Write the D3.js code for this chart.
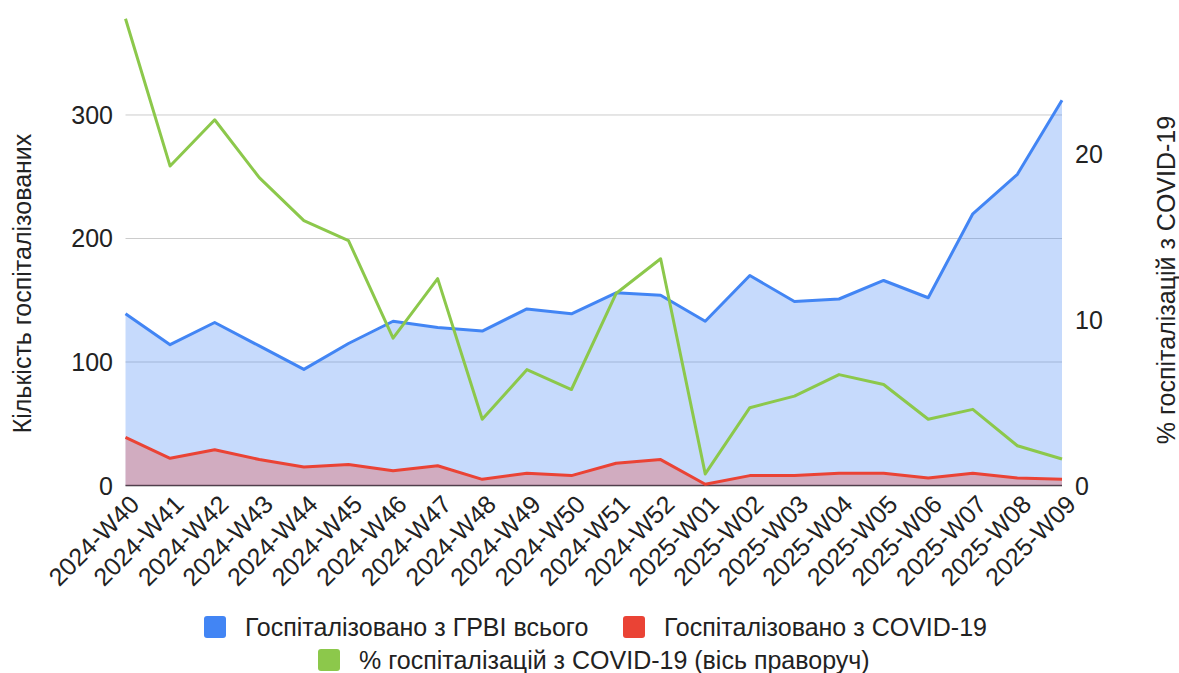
<!DOCTYPE html>
<html>
<head>
<meta charset="utf-8">
<script src="https://cdn.jsdelivr.net/npm/d3@7"></script>
<style>
  body { margin: 0; background: #fff; }
  text { font-family: "Liberation Sans", Arial, sans-serif; }
</style>
</head>
<body>
<script>
const width = 1179;
const height = 673;

const weeks = ["2024-W40", "2024-W41", "2024-W42", "2024-W43", "2024-W44", "2024-W45",
    "2024-W46", "2024-W47", "2024-W48", "2024-W49", "2024-W50", "2024-W51", "2024-W52",
    "2025-W01", "2025-W02", "2025-W03", "2025-W04", "2025-W05", "2025-W06", "2025-W07",
    "2025-W08", "2025-W09"];

const totalSari = [139, 114, 132, 113, 94, 115, 133, 128, 125, 143, 139, 156, 154,
    133, 170, 149, 151, 166, 152, 220, 252, 312];

const covidHosp = [39, 22, 29, 21, 15, 17, 12, 16, 5, 10, 8, 18, 21,
    1, 8, 8, 10, 10, 6, 10, 6, 5];

const covidPct = [28.2, 19.3, 22.1, 18.6, 16.0, 14.8, 8.9, 12.5, 4.0, 7.0, 5.8, 11.6, 13.7,
    0.7, 4.7, 5.4, 6.7, 6.1, 4.0, 4.6, 2.4, 1.6];

const leftTicks = [0, 100, 200, 300];
const rightTicks = [0, 10, 20];

const seriesNames = ["Госпіталізовано з ГРВІ всього", "Госпіталізовано з COVID-19",
    "% госпіталізацій з COVID-19 (вісь праворуч)"];
const colors = ["#4285f4", "#ea4335", "#8cc84b"];

const leftTitle = "Кількість госпіталізованих";
const rightTitle = "% госпіталізацій з COVID-19";

const margin = { left: 125.5, right: 117, top: 10, bottom: 187.5 };
const fontSize = 25;

let svg = d3.select("body").append("svg")
    .attr("width", width)
    .attr("height", height);

let xScale = d3.scalePoint()
    .domain(weeks)
    .range([margin.left, width - margin.right]);

let yLeft = d3.scaleLinear()
    .domain([0, 385])
    .range([height - margin.bottom, margin.top]);

let yRight = d3.scaleLinear()
    .domain([0, 28.73])
    .range([height - margin.bottom, margin.top]);

// gridlines
svg.append("g")
    .selectAll("line")
    .data(leftTicks.slice(1))
    .join("line")
    .attr("x1", margin.left)
    .attr("x2", width - margin.right)
    .attr("y1", d => yLeft(d))
    .attr("y2", d => yLeft(d))
    .attr("stroke", "#cccccc")
    .attr("stroke-width", 1);

// baseline
svg.append("line")
    .attr("x1", margin.left)
    .attr("x2", width - margin.right)
    .attr("y1", yLeft(0))
    .attr("y2", yLeft(0))
    .attr("stroke", "#333")
    .attr("stroke-width", 1.5);

let area = d3.area()
    .x((d, i) => xScale(weeks[i]))
    .y0(yLeft(0))
    .y1(d => yLeft(d));

let lineLeft = d3.line()
    .x((d, i) => xScale(weeks[i]))
    .y(d => yLeft(d));

let lineRight = d3.line()
    .x((d, i) => xScale(weeks[i]))
    .y(d => yRight(d));

[totalSari, covidHosp].forEach((vals, k) => {
    svg.append("path")
        .attr("d", area(vals))
        .attr("fill", colors[k])
        .attr("fill-opacity", 0.3);
});

[totalSari, covidHosp].forEach((vals, k) => {
    svg.append("path")
        .attr("d", lineLeft(vals))
        .attr("fill", "none")
        .attr("stroke", colors[k])
        .attr("stroke-width", 3)
        .attr("stroke-linejoin", "round");
});

svg.append("path")
    .attr("d", lineRight(covidPct))
    .attr("fill", "none")
    .attr("stroke", colors[2])
    .attr("stroke-width", 3)
    .attr("stroke-linejoin", "round");

// left axis labels
svg.append("g")
    .selectAll("text")
    .data(leftTicks)
    .join("text")
    .attr("x", 113)
    .attr("y", d => yLeft(d))
    .attr("dy", "0.36em")
    .attr("text-anchor", "end")
    .style("font-size", fontSize + "px")
    .attr("fill", "#222")
    .text(d => d);

// right axis labels
svg.append("g")
    .selectAll("text")
    .data(rightTicks)
    .join("text")
    .attr("x", 1075)
    .attr("y", d => yRight(d))
    .attr("dy", "0.36em")
    .attr("text-anchor", "start")
    .style("font-size", fontSize + "px")
    .attr("fill", "#222")
    .text(d => d);

// x labels
svg.append("g")
    .selectAll("text")
    .data(weeks)
    .join("text")
    .attr("transform", d => `translate(${xScale(d) + 9},${yLeft(0) + 14}) rotate(-45)`)
    .attr("text-anchor", "end")
    .attr("dy", "0.36em")
    .style("font-size", fontSize + "px")
    .attr("fill", "#222")
    .text(d => d);

// axis titles
svg.append("text")
    .attr("transform", "translate(31,283.5) rotate(-90)")
    .attr("text-anchor", "middle")
    .style("font-size", fontSize + "px")
    .attr("fill", "#222")
    .text(leftTitle);

svg.append("text")
    .attr("transform", "translate(1175,280) rotate(-90)")
    .attr("text-anchor", "middle")
    .style("font-size", fontSize + "px")
    .attr("fill", "#222")
    .text(rightTitle);

// legend
const legendPos = [
    { x: 204, y: 627 },
    { x: 623, y: 627 },
    { x: 318, y: 660 }
];

let legend = svg.append("g")
    .selectAll("g")
    .data(seriesNames)
    .join("g")
    .attr("transform", (d, i) => `translate(${legendPos[i].x},${legendPos[i].y})`);

legend.append("rect")
    .attr("x", 0)
    .attr("y", -11)
    .attr("width", 22)
    .attr("height", 22)
    .attr("rx", 3)
    .attr("fill", (d, i) => colors[i]);

legend.append("text")
    .attr("x", 41)
    .attr("dy", "0.36em")
    .style("font-size", fontSize + "px")
    .attr("fill", "#222")
    .text(d => d);
</script>
</body>
</html>
